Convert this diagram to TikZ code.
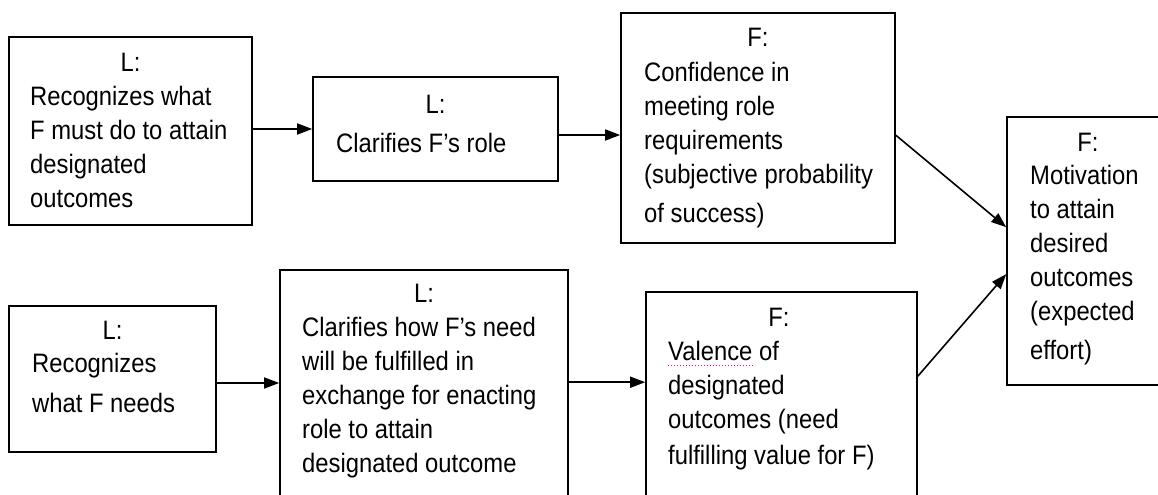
\documentclass[tikz,border=0pt]{standalone}
\usepackage{graphicx}
\usepackage{fontspec}
\setmainfont{Liberation Sans}
\usetikzlibrary{arrows.meta,calc}
\newcommand{\tallt}[1]{\scalebox{1}[1.12]{\begin{tabular}[t]{@{}l@{}}#1\end{tabular}}}
\begin{document}
\begin{tikzpicture}[x=1bp,y=-1bp,
  box/.style={draw=black, line width=1.6bp, inner sep=0pt, fill=none},
  hdr/.style={anchor=base, inner sep=0pt, font=\fontsize{23.8bp}{30.2bp}\selectfont},
  body/.style={anchor=base west, inner sep=0pt, font=\fontsize{23.8bp}{30.2bp}\selectfont},
  arr/.style={line width=1.6bp, -{Triangle[length=15bp,width=11bp]}}]
\useasboundingbox (0,0) rectangle (1158,495);
\clip (0,0) rectangle (1158,495);
\fill[white] (0,0) rectangle (1158,495);
% boxes
\node[box, minimum width=243bp, minimum height=188bp] (b1) at (130.5,131) {};
\node[box, minimum width=245bp, minimum height=104bp] (b2) at (435.5,129) {};
\node[box, minimum width=274bp, minimum height=230bp] (b3) at (758,128) {};
\node[box, minimum width=168bp, minimum height=268bp] (b4) at (1091,251) {};
\node[box, minimum width=207bp, minimum height=146bp] (b5) at (112.5,379) {};
\node[box, minimum width=288bp, minimum height=240bp] (b6) at (424,390) {};
\node[box, minimum width=271bp, minimum height=218bp] (b7) at (781.5,401) {};
% texts
\node[hdr] (b1h) at (130.5,72) {\tallt{L:}};
\node[body] (b1t) at (30,106) {\tallt{Recognizes what\\F must do to attain\\designated\\outcomes}};
\node[hdr] (b2h) at (435.5,114) {\tallt{L:}};
\node[body] (b2t) at (336,153) {\tallt{Clarifies F’s role}};
\node[hdr] (b3h) at (758,47) {\tallt{F:}};
\node[body] (b3t) at (644,82) {\tallt{Confidence in\\meeting role\\requirements\\(subjective probability\\[4.5bp]of success)}};
\node[hdr] (b4h) at (1088,152) {\tallt{F:}};
\node[body] (b4t) at (1030,185) {\tallt{Motivation\\to attain\\desired\\outcomes\\(expected\\[4.5bp]effort)}};
\node[hdr] (b5h) at (112.5,340) {\tallt{L:}};
\node[body] (b5t) at (32,373) {\tallt{Recognizes\\[5.4bp]what F needs}};
\node[hdr] (b6h) at (424,303) {\tallt{L:}};
\node[body] (b6t) at (302,337) {\tallt{Clarifies how F’s need\\will be fulfilled in\\exchange for enacting\\role to attain\\designated outcome}};
\node[hdr] (b7h) at (779,327) {\tallt{F:}};
\node[body] (b7t) at (668,361) {\tallt{Valence of\\designated\\outcomes (need\\[1.8bp]fulfilling value for F)}};
\draw[magenta, dotted, line width=1bp] ([yshift=-5bp]b7t.base west) -- ++(85,0);
% connectors
\draw[arr] ([yshift=2bp]b1.east) -- ([yshift=2bp]b1.east -| b2.west);
\draw[arr] ([yshift=-6bp]b2.east) -- ([yshift=-6bp]b2.east -| b3.west);
\draw[arr] ([yshift=-123bp]b3.north east) -- ([yshift=-111bp]b4.north west);
\draw[arr] ([yshift=-85bp]b7.north east) -- ([yshift=-158bp]b4.north west);
\draw[arr] ([yshift=-4bp]b5.east) -- ([yshift=-4bp]b5.east -| b6.west);
\draw[arr] ([yshift=-113bp]b6.north east) -- ([yshift=-113bp]b6.north east -| b7.west);
\end{tikzpicture}
\end{document}
